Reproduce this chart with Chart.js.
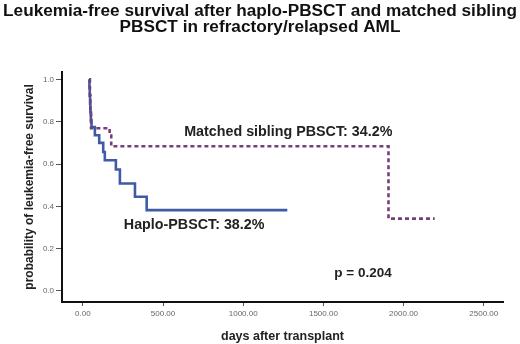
<!DOCTYPE html>
<html lang="en">
<head>
  <meta charset="UTF-8">
  <title>Leukemia-free survival</title>
  <script src="https://cdn.jsdelivr.net/npm/chart.js"></script>
  <style>
    html, body { margin: 0; padding: 0; background: #fff; }
  </style>
</head>
<body>
  <canvas id="km" width="520" height="344"></canvas>

  <script>
    // Datos (Kaplan-Meier)
    const titleLines = [
      'Leukemia-free survival after haplo-PBSCT and matched sibling',
      'PBSCT in refractory/relapsed AML'
    ];
    const xTicks = [0, 500, 1000, 1500, 2000, 2500];
    const yTicks = [0, 0.2, 0.4, 0.6, 0.8, 1.0];

    const haploDays = [40, 41, 43, 45, 47, 50, 54, 75, 102, 127, 137, 206, 231, 325, 398, 1275];
    const haploSurv = [1.0, 0.962, 0.923, 0.885, 0.846, 0.808, 0.775, 0.736, 0.70, 0.657, 0.618, 0.574, 0.508, 0.445, 0.382, 0.382];

    const sibDays = [40, 44, 47, 51, 167, 177, 1906, 2194];
    const sibSurv = [1.0, 0.923, 0.846, 0.769, 0.735, 0.684, 0.342, 0.342];

    const noteTexts = ['Matched sibling PBSCT: 34.2%', 'Haplo-PBSCT: 38.2%', 'p = 0.204'];

    const FONT = '"Liberation Sans", Arial, sans-serif';
    Chart.defaults.font.family = FONT;

    const toPoints = (xs, ys) => xs.map((d, i) => ({ x: d, y: ys[i] }));

    // Textos dentro del area del grafico
    const notesPlugin = {
      id: 'notes',
      afterDatasetsDraw(chart) {
        const { ctx, scales } = chart;
        const spots = [[1281, 0.75, 14.3], [694, 0.311, 14.3], [1747, 0.085, 13.5]];
        ctx.save();
        ctx.fillStyle = '#222';
        ctx.textAlign = 'center';
        ctx.textBaseline = 'middle';
        noteTexts.forEach((t, i) => {
          const [d, p, size] = spots[i];
          ctx.font = 'bold ' + size + 'px ' + FONT;
          ctx.fillText(t, scales.x.getPixelForValue(d), scales.y.getPixelForValue(p));
        });
        ctx.restore();
      }
    };

    new Chart(document.getElementById('km'), {
      type: 'scatter',
      data: {
        datasets: [
          {
            label: 'Matched sibling PBSCT',
            data: toPoints(sibDays, sibSurv),
            showLine: true,
            stepped: 'before',
            borderColor: '#74407a',
            borderWidth: 2.6,
            borderDash: [4, 3],
            pointRadius: 0
          },
          {
            label: 'Haplo-PBSCT',
            data: toPoints(haploDays, haploSurv),
            showLine: true,
            stepped: 'before',
            borderColor: '#3f5ba6',
            borderWidth: 2.6,
            pointRadius: 0
          }
        ]
      },
      options: {
        responsive: false,
        animation: false,
        devicePixelRatio: 1,
        layout: { padding: 0 },
        plugins: {
          legend: { display: false },
          tooltip: { enabled: false },
          title: {
            display: true,
            text: titleLines,
            color: '#111',
            font: { size: 17.2, weight: 'bold', lineHeight: 0.9 },
            padding: { top: 4, bottom: 37 }
          }
        },
        scales: {
          x: {
            type: 'linear',
            min: -130,
            max: 2620,
            afterBuildTicks: s => { s.ticks = xTicks.map(v => ({ value: v })); },
            afterFit: s => { s.height = 42; },
            grid: { drawOnChartArea: false, drawTicks: true, tickLength: 4, tickColor: '#555' },
            border: { display: true, color: '#111', width: 2 },
            ticks: {
              callback: v => Number(v).toFixed(2),
              font: { size: 8 }, color: '#666', padding: 3,
              maxRotation: 0, autoSkip: false
            },
            title: {
              display: true,
              text: 'days after transplant',
              color: '#222',
              font: { size: 12.5, weight: 'bold' },
              padding: { top: 2, bottom: 0 }
            }
          },
          y: {
            type: 'linear',
            min: -0.052,
            max: 1.035,
            afterBuildTicks: s => { s.ticks = yTicks.map(v => ({ value: v })); },
            afterFit: s => { s.width = 62; },
            grid: { drawOnChartArea: false, drawTicks: true, tickLength: 6, tickColor: '#555' },
            border: { display: true, color: '#111', width: 2 },
            ticks: {
              callback: v => Number(v).toFixed(1),
              font: { size: 8 }, color: '#666', padding: 2
            },
            title: {
              display: true,
              text: 'probability of leukemia-free survival',
              color: '#222',
              font: { size: 12, weight: 'bold' },
              padding: { top: 22, bottom: 0 }
            }
          },
          // margen derecho vacio
          yRight: {
            type: 'linear',
            position: 'right',
            afterFit: s => { s.width = 17; },
            grid: { display: false },
            border: { display: false },
            ticks: { display: false }
          }
        }
      },
      plugins: [notesPlugin]
    });
  </script>
</body>
</html>
